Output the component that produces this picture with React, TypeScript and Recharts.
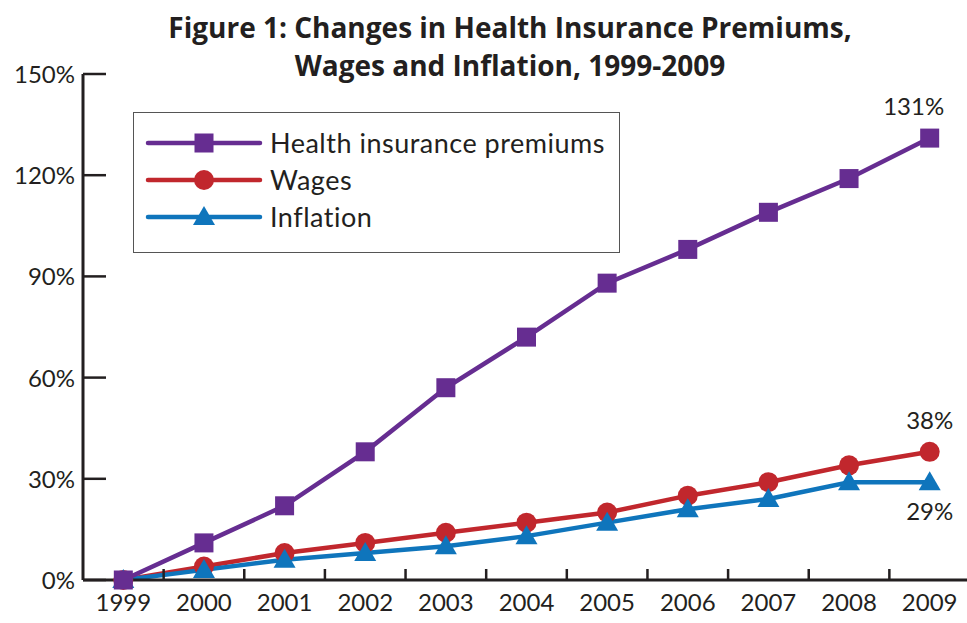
import React from "react";
import { LineChart, Line, XAxis, YAxis, LabelList } from "recharts";

const years = [1999, 2000, 2001, 2002, 2003, 2004, 2005, 2006, 2007, 2008, 2009];
const premiums = [0, 11, 22, 38, 57, 72, 88, 98, 109, 119, 131];
const wages = [0, 4, 8, 11, 14, 17, 20, 25, 29, 34, 38];
const inflation = [0, 3, 6, 8, 10, 13, 17, 21, 24, 29, 29];
const yTicks = [0, 30, 60, 90, 120, 150];

const PURPLE = "#662d91";
const RED = "#c1272d";
const BLUE = "#0f75bc";
const FONT = "Lato, 'Open Sans', sans-serif";

const data = years.map((y, i) => ({
  year: y,
  premiums: premiums[i],
  wages: wages[i],
  inflation: inflation[i],
}));

// labels at year centres, tick marks at the boundaries between years
const xTicks: number[] = [];
years.forEach((y, i) => {
  xTicks.push(y);
  if (i < years.length - 1) xTicks.push(y + 0.5);
});

const series = [
  { key: "premiums", name: "Health insurance premiums", color: PURPLE, shape: "square" },
  { key: "wages", name: "Wages", color: RED, shape: "circle" },
  { key: "inflation", name: "Inflation", color: BLUE, shape: "triangle" },
];
// premiums drawn last so its markers sit on top
const drawOrder = [series[1], series[2], series[0]];

function Marker({ cx, cy, shape, color }: any) {
  if (cx == null || cy == null) return null;
  if (shape === "square") return <rect x={cx - 9.5} y={cy - 9.5} width={19} height={19} fill={color} />;
  if (shape === "circle") return <circle cx={cx} cy={cy} r={10} fill={color} />;
  return <polygon points={`${cx},${cy - 11} ${cx + 11},${cy + 8} ${cx - 11},${cy + 8}`} fill={color} />;
}

function XTick({ x, y, payload }: any) {
  const v = payload.value;
  if (Number.isInteger(v)) {
    return (
      <text x={x} y={y + 31} textAnchor="middle" fontSize={24} fill="#231f20" fontFamily={FONT}>
        {v}
      </text>
    );
  }
  return <line x1={x} x2={x} y1={y} y2={y - 11} stroke="#231f20" strokeWidth={2.5} />;
}

function YTick({ x, y, payload }: any) {
  return (
    <g>
      <line x1={x} x2={x + 23} y1={y} y2={y} stroke="#231f20" strokeWidth={2.5} />
      <text x={x - 8} y={y + 9} textAnchor="end" fontSize={24} fill="#231f20" fontFamily={FONT}>
        {payload.value}%
      </text>
    </g>
  );
}

function EndLabel(props: any) {
  const { x, y, value, index, dx, dy } = props;
  if (index !== years.length - 1) return null;
  return (
    <text x={x + dx} y={y + dy} textAnchor="middle" fontSize={24} fill="#231f20" fontFamily={FONT}>
      {value}%
    </text>
  );
}

function LegendBox() {
  return (
    <div
      style={{
        position: "absolute",
        left: 133,
        top: 112,
        width: 487,
        height: 141,
        border: "1.5px solid #555",
        background: "#fff",
        boxSizing: "border-box",
        paddingTop: 11,
        fontFamily: FONT,
      }}
    >
      {series.map((s) => (
        <div key={s.key} style={{ display: "flex", alignItems: "center", height: 37 }}>
          <svg width={136} height={30}>
            <line x1={14} x2={126} y1={15} y2={15} stroke={s.color} strokeWidth={4.5} strokeLinecap="round" />
            <Marker cx={70} cy={15} shape={s.shape} color={s.color} />
          </svg>
          <span style={{ fontSize: 27, letterSpacing: 0.5, color: "#231f20", lineHeight: "30px" }}>{s.name}</span>
        </div>
      ))}
    </div>
  );
}

export default function App() {
  return (
    <div style={{ position: "absolute", left: 0, top: 0, width: 967, height: 623, background: "#fff" }}>
      <LineChart width={967} height={623} data={data} margin={{ top: 74, right: -3, bottom: 0, left: 0 }}>
        <XAxis
          dataKey="year"
          type="number"
          domain={[1998.5, 2009.5]}
          ticks={xTicks}
          interval={0}
          tick={<XTick />}
          tickLine={false}
          tickSize={0}
          tickMargin={0}
          height={43}
          axisLine={{ stroke: "#231f20", strokeWidth: 3 }}
        />
        <YAxis
          domain={[0, 150]}
          ticks={yTicks}
          interval={0}
          width={83}
          tick={<YTick />}
          tickLine={false}
          tickSize={0}
          tickMargin={0}
          axisLine={{ stroke: "#231f20", strokeWidth: 3 }}
        />
        {drawOrder.map((s) => (
          <Line
            key={s.key}
            dataKey={s.key}
            name={s.name}
            stroke={s.color}
            strokeWidth={4.5}
            isAnimationActive={false}
            dot={(p: any) => <Marker key={p.index} cx={p.cx} cy={p.cy} shape={s.shape} color={s.color} />}
            activeDot={false}
          >
            <LabelList
              dataKey={s.key}
              content={(p: any) => (
                <EndLabel
                  {...p}
                  dx={s.key === "premiums" ? -16 : 0}
                  dy={s.key === "inflation" ? 38 : -23}
                />
              )}
            />
          </Line>
        ))}
      </LineChart>
      <LegendBox />
      <div
        style={{
          position: "absolute",
          left: 0,
          top: 8,
          width: 1020,
          textAlign: "center",
          fontFamily: "'Open Sans', sans-serif",
          fontWeight: 700,
          fontSize: 28,
          lineHeight: "38px",
          color: "#231f20",
        }}
      >
        Figure 1: Changes in Health Insurance Premiums,
        <br />
        Wages and Inflation, 1999-2009
      </div>
    </div>
  );
}
